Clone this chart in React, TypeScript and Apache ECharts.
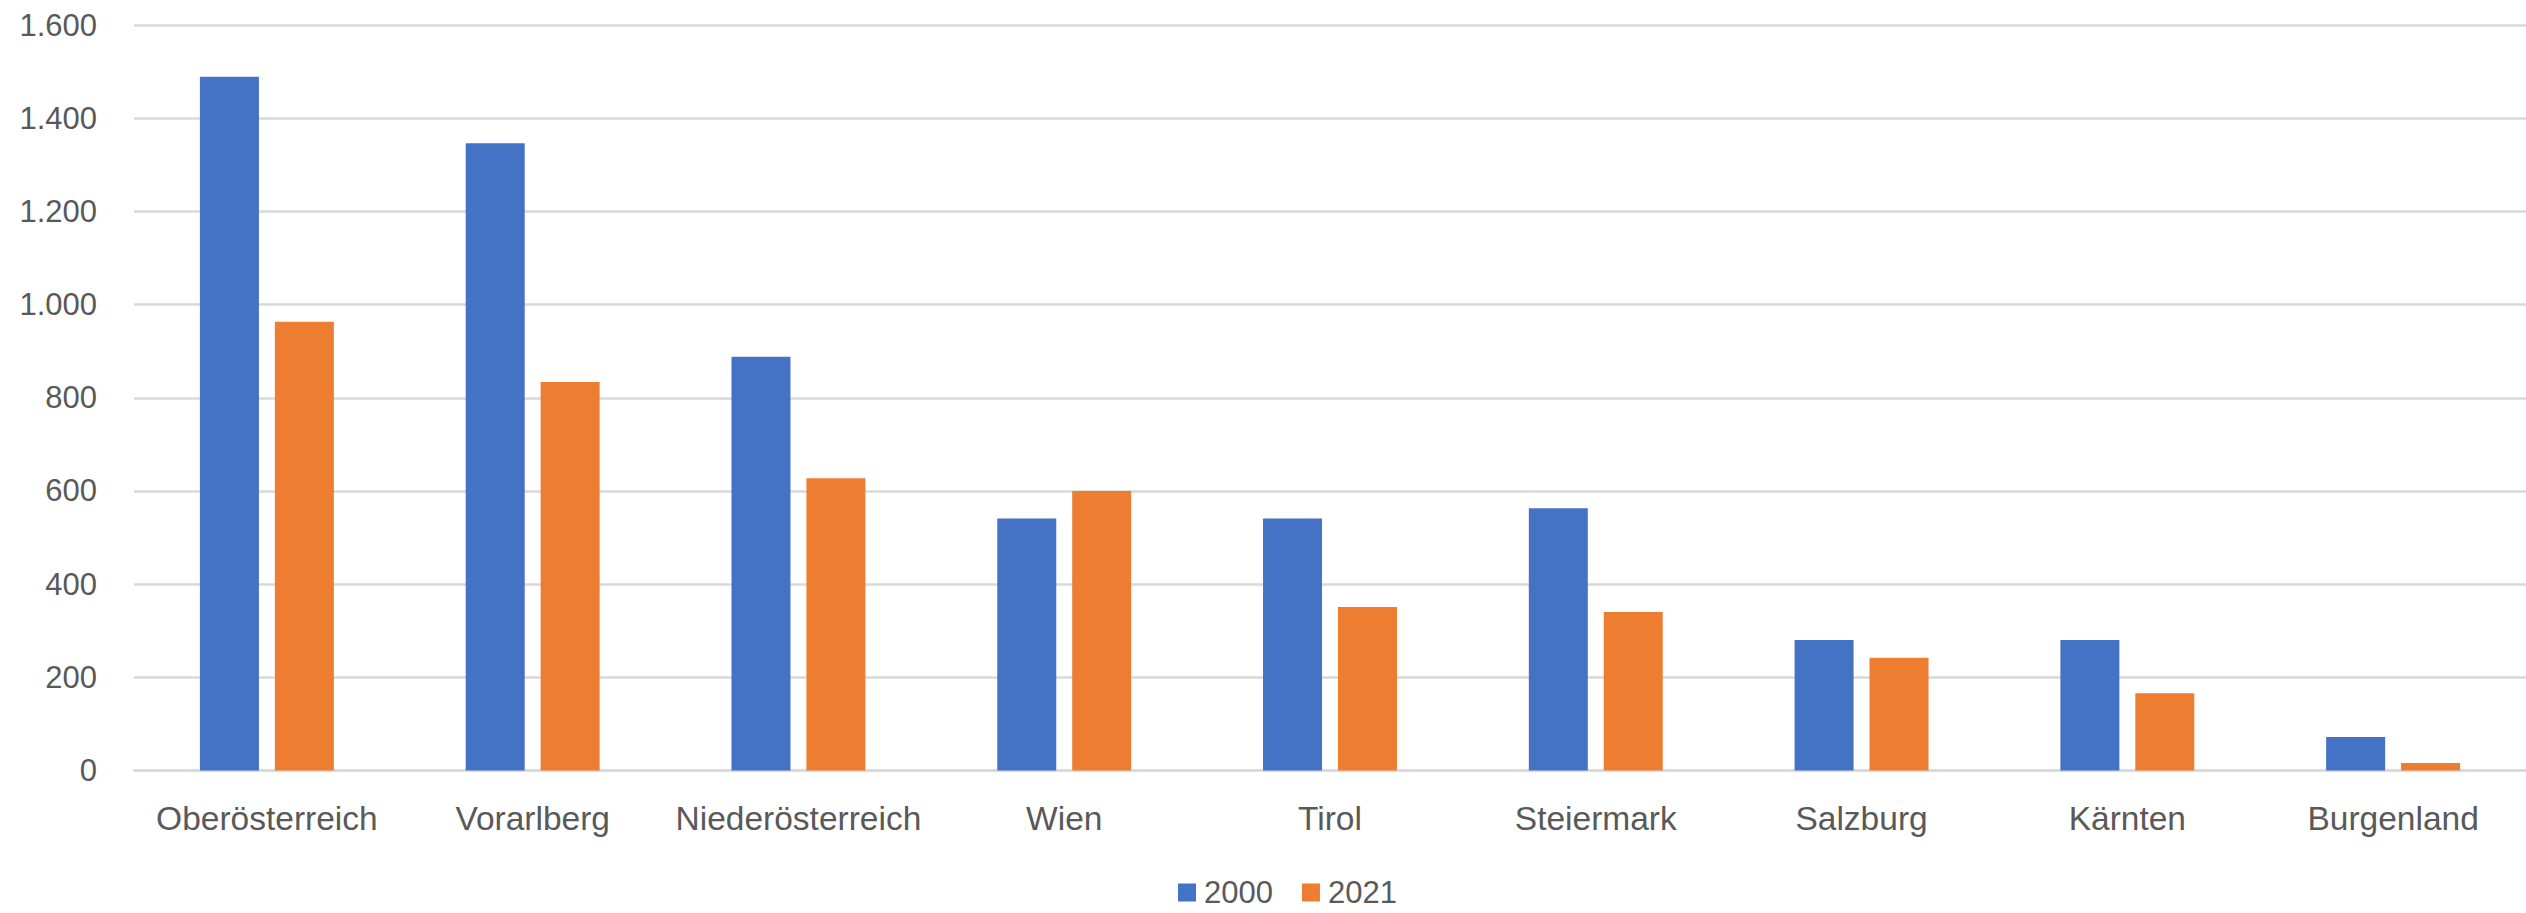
import React, { useEffect, useRef } from "react";
import * as echarts from "echarts";

// Bundesländer in chart order
const categories = [
  "Oberösterreich",
  "Vorarlberg",
  "Niederösterreich",
  "Wien",
  "Tirol",
  "Steiermark",
  "Salzburg",
  "Kärnten",
  "Burgenland",
];

const values2000 = [1489, 1346, 888, 541, 541, 563, 280, 280, 72];
const values2021 = [963, 834, 627, 600, 351, 340, 242, 166, 16];

const seriesNames = ["2000", "2021"];
const seriesColors = ["#4472C4", "#ED7D31"];

const FONT = "'Liberation Sans', Arial, sans-serif";
const TEXT_COLOR = "#595959";

// German thousands separator
const formatTick = (v: number) =>
  v >= 1000 ? `${Math.floor(v / 1000)}.${String(v % 1000).padStart(3, "0")}` : String(v);

export default function App() {
  const ref = useRef<HTMLDivElement>(null);

  useEffect(() => {
    if (!ref.current) return;
    const chart = echarts.init(ref.current, null, { renderer: "svg" });
    chart.setOption({
      animation: false,
      backgroundColor: "#ffffff",
      grid: { left: 134, width: 2398, top: 25, bottom: 142.5, containLabel: false },
      legend: {
        data: seriesNames,
        left: 1178,
        top: 877,
        padding: 0,
        icon: "rect",
        itemWidth: 18,
        itemHeight: 18,
        itemGap: 29,
        textStyle: {
          fontFamily: FONT,
          fontSize: 31,
          lineHeight: 30,
          color: TEXT_COLOR,
          padding: [0, 0, 0, 3],
        },
      },
      xAxis: {
        type: "category",
        data: categories,
        axisLine: { show: true, lineStyle: { color: "#d9d9d9", width: 2.5 } },
        axisTick: { show: false },
        axisLabel: {
          fontFamily: FONT,
          fontSize: 33.5,
          color: TEXT_COLOR,
          margin: 31,
          interval: 0,
        },
      },
      yAxis: {
        type: "value",
        min: 0,
        max: 1600,
        interval: 200,
        axisLine: { show: false },
        axisTick: { show: false },
        splitLine: { lineStyle: { color: "#d9d9d9", width: 2.5 } },
        axisLabel: {
          fontFamily: FONT,
          fontSize: 31,
          color: TEXT_COLOR,
          margin: 37,
          formatter: formatTick,
        },
      },
      series: [
        {
          name: seriesNames[0],
          type: "bar",
          data: values2000,
          barWidth: 59,
          barGap: "27%",
          itemStyle: { color: seriesColors[0] },
        },
        {
          name: seriesNames[1],
          type: "bar",
          data: values2021,
          barWidth: 59,
          barGap: "27%",
          itemStyle: { color: seriesColors[1] },
        },
      ],
    });
    return () => chart.dispose();
  }, []);

  return (
    <div
      ref={ref}
      style={{ position: "absolute", left: 0, top: 0, width: 2526, height: 913 }}
    />
  );
}
